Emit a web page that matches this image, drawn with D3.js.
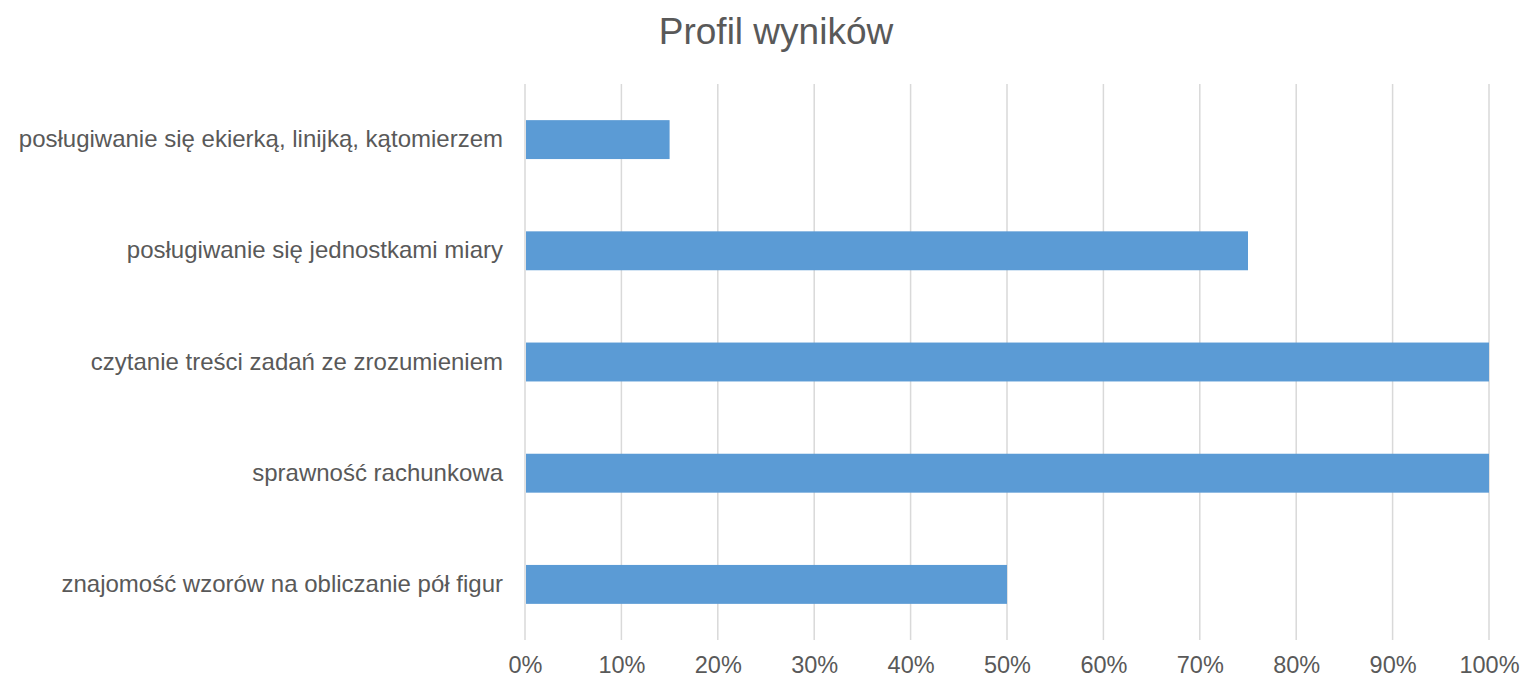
<!DOCTYPE html>
<html>
<head>
<meta charset="utf-8">
<script src="https://cdn.jsdelivr.net/npm/d3@7"></script>
<style>
  body { margin: 0; background: #fff; }
  text { font-family: "Liberation Sans", Arial, sans-serif; fill: #595959; }
</style>
</head>
<body>
<div id="chart"></div>
<script>
// Chart data
const categories = [
    "posługiwanie się ekierką, linijką, kątomierzem",
    "posługiwanie się jednostkami miary",
    "czytanie treści zadań ze zrozumieniem",
    "sprawność rachunkowa",
    "znajomość wzorów na obliczanie pół figur"
];
const values = [0.15, 0.75, 1.0, 1.0, 0.5];
const tickValues = [0, 0.1, 0.2, 0.3, 0.4, 0.5, 0.6, 0.7, 0.8, 0.9, 1.0];
const title = "Profil wyników";

const width = 1524, height = 680;
const margin = { top: 84, right: 35, bottom: 40, left: 525 };
const innerW = width - margin.left - margin.right;
const innerH = height - margin.top - margin.bottom;

const svg = d3.select("#chart").append("svg")
    .attr("width", width)
    .attr("height", height);

svg.append("text")
    .attr("x", 776)
    .attr("y", 44)
    .attr("text-anchor", "middle")
    .style("font-size", "37px")
    .text(title);

const g = svg.append("g")
    .attr("transform", `translate(${margin.left},${margin.top})`);

const x = d3.scaleLinear().domain([0, 1]).range([0, innerW]);
const y = d3.scaleBand().domain(categories).range([0, innerH]).paddingInner(0.65).paddingOuter(0.325);

// Gridlines
g.selectAll(".grid")
    .data(tickValues)
    .enter().append("line")
    .attr("class", "grid")
    .attr("x1", d => x(d)).attr("x2", d => x(d))
    .attr("y1", 0).attr("y2", innerH)
    .attr("stroke", "#d9d9d9")
    .attr("stroke-width", 1.5);

// Bars
g.selectAll(".bar")
    .data(values)
    .enter().append("rect")
    .attr("class", "bar")
    .attr("x", x(0) + 1)
    .attr("y", (d, i) => y(categories[i]))
    .attr("width", d => x(d) - x(0) - 1)
    .attr("height", y.bandwidth())
    .attr("fill", "#5b9bd5");

// X axis
const xAxis = g.append("g")
    .attr("transform", `translate(0,${innerH})`)
    .call(d3.axisBottom(x).tickValues(tickValues).tickFormat(d3.format(".0%")).tickSize(0).tickPadding(16));
xAxis.select(".domain").remove();
xAxis.selectAll("text").style("font-size", "23.5px").attr("fill", "#595959");

// Y axis
const yAxis = g.append("g")
    .call(d3.axisLeft(y).tickSize(0).tickPadding(22));
yAxis.select(".domain").remove();
yAxis.selectAll("text").style("font-size", "24px").attr("fill", "#595959");
</script>
</body>
</html>
